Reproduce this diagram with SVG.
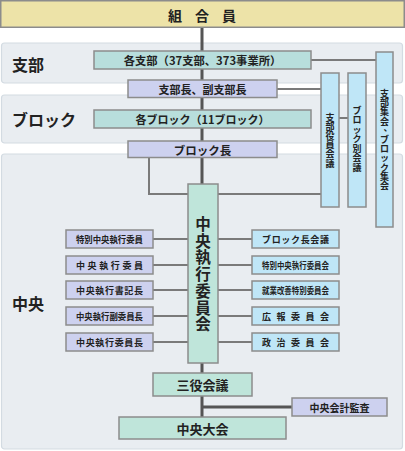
<svg xmlns="http://www.w3.org/2000/svg" width="405" height="451" viewBox="0 0 405 451">
<style>
text{font-family:"Noto Sans CJK JP","Noto Sans CJK SC",sans-serif;font-weight:bold;fill:#222;dominant-baseline:central;text-anchor:middle}
.sec{fill:#e9edf1;stroke:#d3dbe2;stroke-width:1.2}
.lab{font-size:16px;text-anchor:start}
.box{stroke:#8c8c8c;stroke-width:1.5}
.ban{fill:#ede3a8}
.teal{fill:#b8dedc}
.mint{fill:#bfe5da}
.lav{fill:#cdd1ef}
.blue{fill:#bfe6f7}
.thick{stroke:#555;stroke-width:3;fill:none}
.thin{stroke:#7a7a7a;stroke-width:2;fill:none}
.vt{font-size:9px}
.s9{font-size:9px}
.s85{font-size:8.6px}
</style>
<g id="sections">
<rect class="sec" x="1.5" y="43" width="401" height="40" rx="3"/>
<rect class="sec" x="1.5" y="95" width="401" height="48" rx="3"/>
<rect class="sec" x="1.5" y="154" width="401" height="295" rx="3"/>
<text class="lab" x="12" y="64">支部</text>
<text class="lab" x="12" y="119">ブロック</text>
<text class="lab" x="12" y="303">中央</text>
</g>
<g id="connectors">
<line class="thick" x1="202" y1="27" x2="202" y2="417"/>
<line class="thick" x1="202" y1="407" x2="292" y2="407"/>
<line class="thin" x1="311" y1="60" x2="376" y2="60"/>
<line class="thin" x1="277" y1="89" x2="321" y2="89"/>
<line class="thin" x1="339" y1="118" x2="348" y2="118"/>
<polyline class="thin" points="149,158 149,194 188,194"/>
<line class="thin" x1="218" y1="194" x2="321" y2="194"/>
<line class="thin" x1="153" y1="239" x2="188" y2="239"/>
<line class="thin" x1="153" y1="265" x2="188" y2="265"/>
<line class="thin" x1="153" y1="290" x2="188" y2="290"/>
<line class="thin" x1="153" y1="316" x2="188" y2="316"/>
<line class="thin" x1="153" y1="342" x2="188" y2="342"/>
<line class="thin" x1="218" y1="239" x2="252" y2="239"/>
<line class="thin" x1="218" y1="265" x2="252" y2="265"/>
<line class="thin" x1="218" y1="290" x2="252" y2="290"/>
<line class="thin" x1="218" y1="316" x2="252" y2="316"/>
<line class="thin" x1="218" y1="342" x2="252" y2="342"/>
</g>
<g id="kumiaiin">
<rect class="box ban" x="0.75" y="0.75" width="403.5" height="26.5"/>
<text x="175 202 229" y="15" style="font-size:14px">組合員</text>
</g>
<g id="kakushibu">
<rect class="box teal" x="94" y="51" width="217" height="18"/>
<text x="202.5" y="60" style="font-size:11.3px">各支部（37支部、373事業所）</text>
</g>
<g id="shibucho">
<rect class="box lav" x="128" y="80" width="149" height="17.5"/>
<text x="202.5" y="89" style="font-size:11px">支部長、副支部長</text>
</g>
<g id="kakublock">
<rect class="box teal" x="94" y="110" width="217" height="18"/>
<text x="202.5" y="119" style="font-size:11px">各ブロック（11ブロック）</text>
</g>
<g id="blockcho">
<rect class="box lav" x="128" y="141" width="149" height="16.5"/>
<text x="202.5" y="149.5" style="font-size:11.5px">ブロック長</text>
</g>
<g id="shibuyakuin">
<rect class="box blue" x="321" y="73" width="18" height="134"/>
<text class="vt" x="330 330 330 330 330 330" y="117 126.2 135.4 144.6 153.8 163">支部役員会議</text>
</g>
<g id="blockbetsu">
<rect class="box blue" x="348" y="73" width="18" height="134"/>
<text class="vt" x="357 357 357 357 357 357 357" y="110 119.5 129 138.5 148 157.5 167">ブロック別会議</text>
</g>
<g id="shibushukai">
<rect class="box blue" x="376" y="52" width="17" height="175"/>
<text class="vt" x="384.5 384.5 384.5 384.5 388 384.5 384.5 384.5 384.5 384.5 384.5" y="93.5 102.7 111.9 121.1 127 139.5 148.7 157.9 167.1 176.3 185.5">支部集会、ブロック集会</text>
</g>
<g id="chuoshikko">
<rect class="box mint" x="188" y="184" width="30" height="179"/>
<text x="203 203 203 203 203 203 203" y="223 239.7 256.4 273.1 289.8 306.5 323.2" style="font-size:15.5px">中央執行委員会</text>
</g>
<g id="left1"><rect class="box lav" x="66" y="230" width="87" height="18"/><text class="s9" x="109.5" y="239" textLength="67" lengthAdjust="spacingAndGlyphs">特別中央執行委員</text></g>
<g id="left2"><rect class="box lav" x="66" y="256" width="87" height="18"/><text class="s9" x="109.5" y="265" textLength="67" lengthAdjust="spacing">中央執行委員</text></g>
<g id="left3"><rect class="box lav" x="66" y="281" width="87" height="18"/><text class="s9" x="109.5" y="290" textLength="67" lengthAdjust="spacing">中央執行書記長</text></g>
<g id="left4"><rect class="box lav" x="66" y="307" width="87" height="18"/><text class="s9" x="109.5" y="316" textLength="67" lengthAdjust="spacingAndGlyphs">中央執行副委員長</text></g>
<g id="left5"><rect class="box lav" x="66" y="333" width="87" height="18"/><text class="s9" x="109.5" y="342" textLength="67" lengthAdjust="spacing">中央執行委員長</text></g>
<g id="right1"><rect class="box blue" x="252" y="230" width="87" height="18"/><text class="s9" x="295.5" y="239" textLength="67" lengthAdjust="spacing">ブロック長会議</text></g>
<g id="right2"><rect class="box blue" x="252" y="256" width="87" height="18"/><text class="s85" x="295.5" y="265" textLength="67" lengthAdjust="spacingAndGlyphs">特別中央執行委員会</text></g>
<g id="right3"><rect class="box blue" x="252" y="281" width="87" height="18"/><text class="s85" x="295.5" y="290" textLength="67" lengthAdjust="spacingAndGlyphs">就業改善特別委員会</text></g>
<g id="right4"><rect class="box blue" x="252" y="307" width="87" height="18"/><text class="s9" x="295.5" y="316" textLength="67" lengthAdjust="spacing">広報委員会</text></g>
<g id="right5"><rect class="box blue" x="252" y="333" width="87" height="18"/><text class="s9" x="295.5" y="342" textLength="67" lengthAdjust="spacing">政治委員会</text></g>
<g id="sanyaku">
<rect class="box mint" x="153" y="373" width="99" height="23"/>
<text x="202.5" y="384.5" style="font-size:13px">三役会議</text>
</g>
<g id="kansa">
<rect class="box lav" x="292" y="398" width="95" height="18"/>
<text x="339.5" y="407" style="font-size:10px">中央会計監査</text>
</g>
<g id="taikai">
<rect class="box mint" x="119" y="417" width="167" height="22"/>
<text x="202.5" y="428" style="font-size:13px">中央大会</text>
</g>
</svg>
